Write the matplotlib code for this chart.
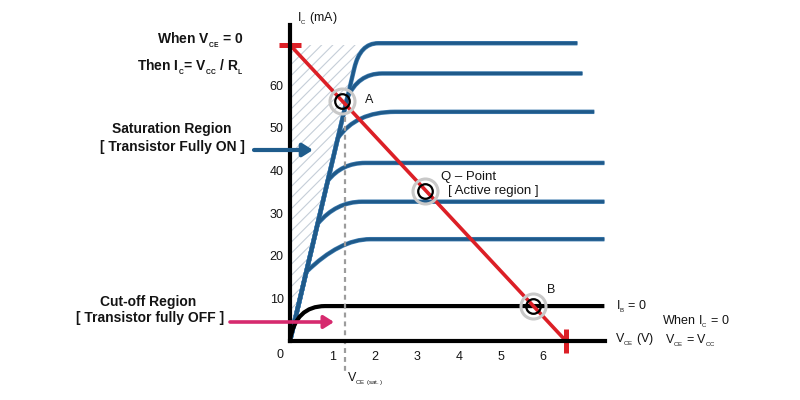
import matplotlib
matplotlib.use('Agg')
import matplotlib.pyplot as plt
from matplotlib.path import Path
from matplotlib.patches import PathPatch, Polygon

plt.rcParams['font.family'] = ['Liberation Sans', 'DejaVu Sans']
plt.rcParams['mathtext.fontset'] = 'custom'
plt.rcParams['mathtext.rm'] = 'Liberation Sans'
plt.rcParams['mathtext.bf'] = 'Liberation Sans:bold'
plt.rcParams['hatch.color'] = '#c5ced8'
plt.rcParams['hatch.linewidth'] = 0.8

# ---------------- data ----------------
x_ticks = [1, 2, 3, 4, 5, 6]
y_ticks = [10, 20, 30, 40, 50, 60]

ic_levels = [69.9, 62.8, 53.8, 41.8, 32.7, 23.9]   # mA, flat part of each curve
branch_ic = [64.0, 57.0, 47.6, 37.6, 27.5, 16.2]   # mA where curve leaves saturation edge
knee_v = [1.66, 1.61, 1.56, 1.23, 1.09, 1.18]      # V, bend corner
flat_v = [2.09, 2.18, 2.49, 1.78, 1.71, 1.90]      # V, where curve becomes flat
end_v = [6.81, 6.93, 7.21, 7.45, 7.45, 7.45]       # V, end of curve
sat_slope = 0.0238                                  # V per mA along saturation edge

cutoff_ic = 8.2
cutoff_knee_v = 0.14
cutoff_flat_v = 0.83
cutoff_end_v = 7.45

vcc = 6.54       # V, load line x intercept
ic_max = 69.5    # mA, load line y intercept
vce_sat = 1.30

points_v = [1.23, 3.20, 5.76]
points_ic = [56.3, 35.3, 8.2]

# ---------------- figure ----------------
W, H = 800, 400
fig = plt.figure(figsize=(8, 4), dpi=100)
ax = fig.add_axes([290 / W, 1 - 341 / H, (605 - 290) / W, (341 - 25) / H])
ax.set_xlim(0, 315 / 42.2)
ax.set_ylim(0, 316 / 4.26)

def fx(px):
    return px / W

def fy(py):
    return 1 - py / H

BLUE = '#1f5a8a'
RED = '#dc1f26'
TXT = '#141414'

for s in ['top', 'right']:
    ax.spines[s].set_visible(False)
for s in ['left', 'bottom']:
    ax.spines[s].set_linewidth(3.0)
    ax.spines[s].set_color('black')
    ax.spines[s].set_zorder(7)

ax.set_xticks(x_ticks)
ax.set_yticks(y_ticks)
ax.tick_params(length=0, labelsize=9, colors=TXT)
ax.tick_params(axis='x', pad=7)
ax.tick_params(axis='y', pad=4.5)

# hatched saturation region
hatch = Polygon([(0, 0), (0, ic_max), (sat_slope * ic_max, ic_max)], closed=True,
                facecolor='none', edgecolor='#c5ced8', hatch='///', linewidth=0, zorder=1)
ax.add_patch(hatch)

# characteristic curves
for lev, b, kv, fv, ev in zip(ic_levels, branch_ic, knee_v, flat_v, end_v):
    verts = [(0, 0), (sat_slope * b, b), (kv, lev), (fv, lev), (ev, lev)]
    codes = [Path.MOVETO, Path.LINETO, Path.CURVE3, Path.CURVE3, Path.LINETO]
    p = Path(verts, codes)
    ax.add_patch(PathPatch(p, facecolor='none', edgecolor='#3f7cb0', lw=3.2,
                           capstyle='butt', joinstyle='round', zorder=3))
    ax.add_patch(PathPatch(p, facecolor='none', edgecolor=BLUE, lw=2.2,
                           capstyle='butt', joinstyle='round', zorder=3.1))

# cut-off curve (IB = 0)
pc = Path([(0, 0.3), (cutoff_knee_v, cutoff_ic), (cutoff_flat_v, cutoff_ic), (cutoff_end_v, cutoff_ic)],
          [Path.MOVETO, Path.CURVE3, Path.CURVE3, Path.LINETO])
ax.add_patch(PathPatch(pc, facecolor='none', edgecolor='black', lw=3.0,
                       capstyle='butt', zorder=3.5, clip_on=False))

# VCE(sat) dashed line
ax.plot([vce_sat, vce_sat], [52.5, -7.5], ls=(0, (2.2, 1.8)), color='#9c9c9c',
        lw=1.6, zorder=4, clip_on=False)

# load line
ax.plot([0, vcc], [ic_max, 0], color=RED, lw=2.6, zorder=5, clip_on=False, solid_capstyle='butt')
ax.plot([0], [ic_max], marker='_', ms=16, mew=3.6, color=RED, zorder=5, clip_on=False)
ax.plot([vcc], [0], marker='|', ms=17, mew=3.6, color=RED, zorder=5, clip_on=False)

# operating points
ax.plot(points_v, points_ic, ls='none', marker='o', ms=18, mfc='none', mec='#c8c8c8',
        mew=2.2, zorder=5.5, clip_on=False)
ax.plot(points_v, points_ic, ls='none', marker='o', ms=10.5, mfc='none', mec='black',
        mew=1.6, zorder=6, clip_on=False)

# ---------------- text ----------------
def sub(s, bold=False):
    return r'$_{_{\mathregular{' + s.replace(' ', r'\ ') + '}}}$'

def t(px, py, s, size=9, ha='left', weight='normal'):
    fig.text(fx(px), fy(py), s, fontsize=size, ha=ha, va='center', color=TXT,
             fontweight=weight)

t(280, 355, '0', ha='center')
t(297, 19, 'I' + sub('C') + ' (mA)')
t(369, 100, 'A', ha='center')
t(441, 177, 'Q – Point', size=9.5)
t(448, 191, '[ Active region ]', size=9.5)
t(551, 290, 'B', ha='center')
t(616, 307, 'I' + sub('B') + ' = 0')
t(615, 340, 'V' + sub('CE') + ' (V)')
t(662, 322, 'When I' + sub('C') + ' = 0')
t(665, 341, 'V' + sub('CE') + ' = V' + sub('CC'))
t(347, 379, 'V' + sub('CE (sat.)'))

B = 'bold'
t(243, 40, 'When V' + sub('CE') + ' = 0', size=10, ha='right', weight=B)
t(243, 67, 'Then I' + sub('C') + '= V' + sub('CC') + ' / R' + sub('L'), size=10, ha='right', weight=B)
t(172, 129, 'Saturation Region', size=10, ha='center', weight=B)
t(172, 147, '[ Transistor Fully ON ]', size=10, ha='center', weight=B)
t(148, 302, 'Cut-off Region', size=10, ha='center', weight=B)
t(150, 318, '[ Transistor fully OFF ]', size=10, ha='center', weight=B)

# arrows
ax.annotate('', xy=(fx(313), fy(150)), xytext=(fx(254), fy(150)),
            xycoords='figure fraction', textcoords='figure fraction',
            arrowprops=dict(arrowstyle='-|>,head_length=0.6,head_width=0.38',
                            color='#1f5c8c', lw=3.0, shrinkA=0, shrinkB=0), zorder=8)
ax.annotate('', xy=(fx(334), fy(322)), xytext=(fx(230), fy(322)),
            xycoords='figure fraction', textcoords='figure fraction',
            arrowprops=dict(arrowstyle='-|>,head_length=0.6,head_width=0.38',
                            color='#d62a6e', lw=2.6, shrinkA=0, shrinkB=0), zorder=8)

fig.savefig('out.png', dpi=100)
